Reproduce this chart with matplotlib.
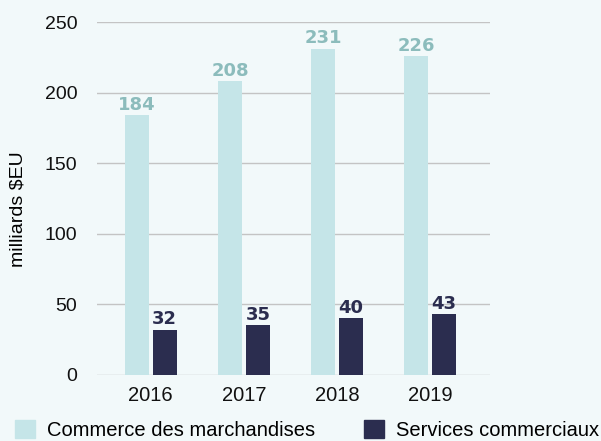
import matplotlib.pyplot as plt
import numpy as np
from matplotlib.patches import Patch

years = ['2016', '2017', '2018', '2019']
marchandises = [184, 208, 231, 226]
services = [32, 35, 40, 43]

light = '#c5e5e8'
dark = '#2b2d4f'
light_txt = '#8cbcbc'
bg = '#f2f9fa'

plt.rcParams['font.family'] = ['Liberation Sans', 'DejaVu Sans']

fig = plt.figure(figsize=(6.01, 4.41), dpi=100, facecolor=bg)
ax = fig.add_axes([0.161, 0.150, 0.654, 0.800], facecolor=bg)

x = np.arange(len(years))
w = 0.26
b1 = ax.bar(x - 0.15, marchandises, w, color=light, zorder=3)
b2 = ax.bar(x + 0.15, services, w, color=dark, zorder=3)

for rect, v in zip(b1, marchandises):
    ax.text(rect.get_x() + rect.get_width() / 2, v + 1, str(v), ha='center', va='bottom',
            color=light_txt, fontsize=13, fontweight='bold', family='DejaVu Sans')
for rect, v in zip(b2, services):
    ax.text(rect.get_x() + rect.get_width() / 2, v + 1, str(v), ha='center', va='bottom',
            color=dark, fontsize=13, fontweight='bold', family='DejaVu Sans')

ax.set_xlim(-0.58, 3.64)
ax.set_ylim(0, 250)
ax.set_yticks([0, 50, 100, 150, 200, 250])
ax.set_xticks(x)
ax.set_xticklabels(years)
ax.tick_params(length=0, labelsize=14, colors='#111111')
ax.tick_params(axis='x', labelsize=14.5, pad=8)
ax.tick_params(axis='y', pad=14)
ax.grid(axis='y', color='#c4c4c4', linewidth=1, zorder=0)
for s in ax.spines.values():
    s.set_visible(False)
ax.set_ylabel('milliards $EU', fontsize=14)
ax.yaxis.set_label_coords(-0.18, 0.47)

handles = [Patch(color=light, label='Commerce des marchandises'),
           Patch(color=dark, label='Services commerciaux')]
fig.legend(handles=handles, loc='center left', bbox_to_anchor=(0.025, 0.024), ncol=2,
           frameon=False, fontsize=14.5, handlelength=1.0, handleheight=1.0,
           columnspacing=2.4, handletextpad=0.6, borderpad=0, borderaxespad=0)

fig.savefig('out.png', dpi=100, facecolor=bg)
